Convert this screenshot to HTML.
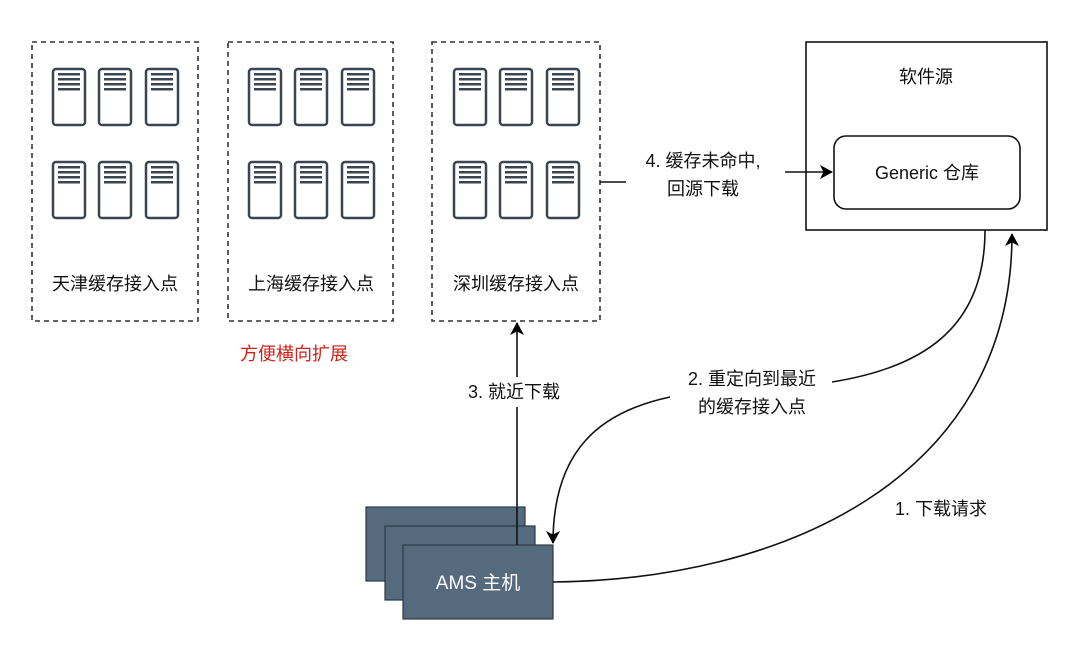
<!DOCTYPE html>
<html><head><meta charset="utf-8"><style>
body{margin:0;background:#fff;}
svg text{font-family:"Liberation Sans","Noto Sans CJK SC",sans-serif;}
</style></head><body>
<svg width="1080" height="664" viewBox="0 0 1080 664" xmlns="http://www.w3.org/2000/svg">
<defs>
<g id="srv">
<rect x="1" y="1" width="32" height="56" rx="3" fill="#fff" stroke="#3b4552" stroke-width="2.5"/>
<rect x="6" y="5" width="22" height="2.5" fill="#3b4552"/>
<rect x="6" y="10" width="22" height="2.5" fill="#3b4552"/>
<rect x="6" y="15" width="22" height="2.5" fill="#3b4552"/>
<rect x="6" y="20" width="22" height="2.5" fill="#3b4552"/>
</g>
<marker id="ah" markerWidth="14" markerHeight="14" refX="12" refY="7" orient="auto" markerUnits="userSpaceOnUse">
<path d="M0,0 L13,7 L0,14 L3.5,7 Z" fill="#000"/>
</marker>
</defs>
<g fill="none" stroke="#333" stroke-width="1.6" stroke-dasharray="5,4">
<rect x="32" y="42" width="166" height="279"/>
<rect x="228" y="42" width="165" height="279"/>
<rect x="432" y="42" width="168" height="279"/>
</g>
<g>
<use href="#srv" x="52" y="68"/><use href="#srv" x="98" y="68"/><use href="#srv" x="145" y="68"/>
<use href="#srv" x="52" y="161"/><use href="#srv" x="98" y="161"/><use href="#srv" x="145" y="161"/>
<use href="#srv" x="248" y="68"/><use href="#srv" x="294" y="68"/><use href="#srv" x="341" y="68"/>
<use href="#srv" x="248" y="161"/><use href="#srv" x="294" y="161"/><use href="#srv" x="341" y="161"/>
<use href="#srv" x="453" y="68"/><use href="#srv" x="499" y="68"/><use href="#srv" x="546" y="68"/>
<use href="#srv" x="453" y="161"/><use href="#srv" x="499" y="161"/><use href="#srv" x="546" y="161"/>
</g>
<g font-size="18" fill="#111" text-anchor="middle">
<text x="115" y="290">天津缓存接入点</text>
<text x="311" y="290">上海缓存接入点</text>
<text x="516" y="290">深圳缓存接入点</text>
</g>
<text x="294" y="360" font-size="18" fill="#d0201a" text-anchor="middle">方便横向扩展</text>
<rect x="806" y="42" width="241" height="188" fill="#fff" stroke="#111" stroke-width="1.6"/>
<text x="926" y="83" font-size="18" text-anchor="middle" fill="#111">软件源</text>
<rect x="834" y="136" width="186" height="73" rx="12" fill="#fff" stroke="#111" stroke-width="1.6"/>
<text x="927" y="179" font-size="18" text-anchor="middle" fill="#111">Generic 仓库</text>
<g fill="none" stroke="#111" stroke-width="1.6">
<path d="M600,182 L626,182"/>
<path d="M785,172 L832,172" marker-end="url(#ah)"/>
<path d="M553,582 C780,580 1012,480 1012,234" marker-end="url(#ah)"/>
<path d="M985,230 C985,330 920,368 832,382"/>
<path d="M670,397 C600,412 553,450 553,543" marker-end="url(#ah)"/>
<path d="M517,545 L517,323" marker-end="url(#ah)"/>
</g>
<g font-size="18" fill="#111" text-anchor="middle">
<text x="703" y="167">4. 缓存未命中,</text>
<text x="703" y="195">回源下载</text>
<rect x="452" y="377" width="126" height="30" fill="#fff"/>
<text x="514" y="398">3. 就近下载</text>
<text x="752" y="385">2. 重定向到最近</text>
<text x="752" y="413">的缓存接入点</text>
<rect x="880" y="495" width="120" height="28" fill="#fff"/>
<text x="941" y="515">1. 下载请求</text>
</g>
<g stroke="#2c3a48" stroke-width="1.2" fill="#566a7e">
<rect x="366" y="507" width="159" height="74"/>
<rect x="385" y="526" width="150" height="74"/>
<rect x="403" y="545" width="150" height="74"/>
</g>
<path d="M517,507 L517,545" stroke="#111" stroke-width="1.6"/>
<text x="478" y="589" font-size="19" fill="#fff" text-anchor="middle">AMS  主机</text>
</svg>
</body></html>
